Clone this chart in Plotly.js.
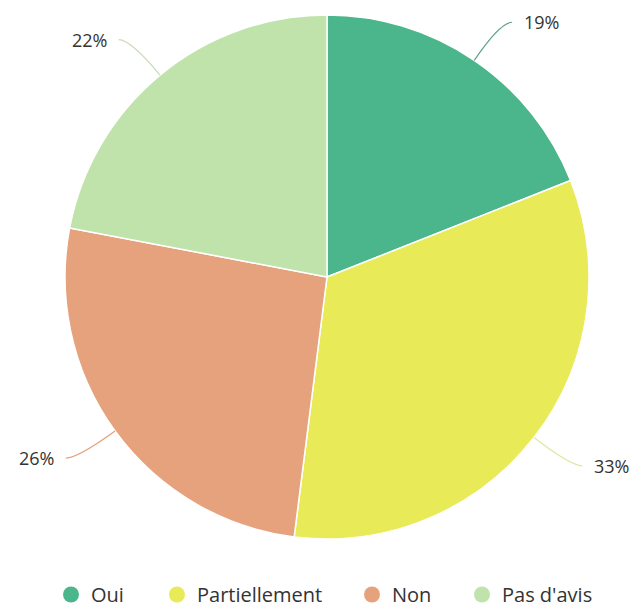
<!DOCTYPE html>
<html><head><meta charset="utf-8">
<script src="https://cdn.plot.ly/plotly-3.0.1.min.js"></script>
<style>body{margin:0;background:#fff}</style></head>
<body><div id="chart" style="width:637px;height:609px"></div>
<script>
// ---- data ----
const categories = ['Oui', 'Partiellement', 'Non', "Pas d'avis"];
const values = [19, 33, 26, 22];
const colors = ['#4bb58b', '#e9ea58', '#e5a27c', '#bfe3aa'];
const lineColors = ['#5f9e88', '#dfe8a0', '#e3a07c', '#c8dcbc'];
const legendCenters = [71, 177, 372, 482];

// ---- geometry (pixels) ----
const W = 637, H = 609, CX = 327, CY = 277, R = 262, LABEL_D = 46;
const px = x => x / W, py = y => 1 - y / H;

const total = values.reduce((a, b) => a + b, 0);
const shapes = [], annotations = [];
let cum = 0;
values.forEach((v, i) => {
  const mid = (cum + v / 2) / total * 2 * Math.PI; cum += v;
  const s = Math.sin(mid), c = Math.cos(mid);
  const x0 = CX + R * s, y0 = CY - R * c;
  const yL = CY - (R + LABEL_D) * c;
  const side = s >= 0 ? 1 : -1;
  const xr = CX + (R + LABEL_D) * s;
  const xe = xr + side * 12;
  shapes.push({
    type: 'path', xref: 'paper', yref: 'paper',
    path: `M ${px(x0)},${py(y0)} Q ${px(xr)},${py(yL)} ${px(xe)},${py(yL)}`,
    line: {color: lineColors[i], width: 1.2}
  });
  annotations.push({
    xref: 'paper', yref: 'paper', x: px(xe + side * 10), y: py(yL),
    xanchor: side > 0 ? 'left' : 'right', yanchor: 'middle',
    text: v + '%', showarrow: false,
    font: {family: 'Open Sans, sans-serif', size: 18, color: '#333'}
  });
});

const traces = [{
  type: 'pie', labels: categories, values: values, sort: false,
  direction: 'clockwise', rotation: 0, textinfo: 'none', hoverinfo: 'label+percent',
  marker: {colors: colors, line: {color: '#ffffff', width: 1.5}},
  showlegend: false,
  domain: {x: [px(CX - R), px(CX + R)], y: [py(CY + R), py(CY - R)]}
}];
const legendNames = ['legend', 'legend2', 'legend3', 'legend4'];
const layout = {
  width: W, height: H, margin: {l: 0, r: 0, t: 0, b: 0, autoexpand: false},
  paper_bgcolor: '#ffffff', plot_bgcolor: 'rgba(0,0,0,0)',
  xaxis: {visible: false, range: [0, 1]}, yaxis: {visible: false, range: [0, 1]},
  shapes: shapes, annotations: annotations
};
categories.forEach((cat, i) => {
  traces.push({
    type: 'scatter', mode: 'markers', x: [-10], y: [-10], name: cat,
    legend: legendNames[i], hoverinfo: 'skip',
    marker: {symbol: 'circle', size: 17, color: colors[i]}
  });
  layout[legendNames[i]] = {
    orientation: 'h', x: px(legendCenters[i] - 20), y: -5 / H,
    xanchor: 'left', yanchor: 'bottom', bgcolor: 'rgba(0,0,0,0)',
    font: {family: 'Open Sans, sans-serif', size: 20, color: '#333'}
  };
});
Plotly.newPlot('chart', traces, layout, {displayModeBar: false, staticPlot: true});
</script></body></html>
